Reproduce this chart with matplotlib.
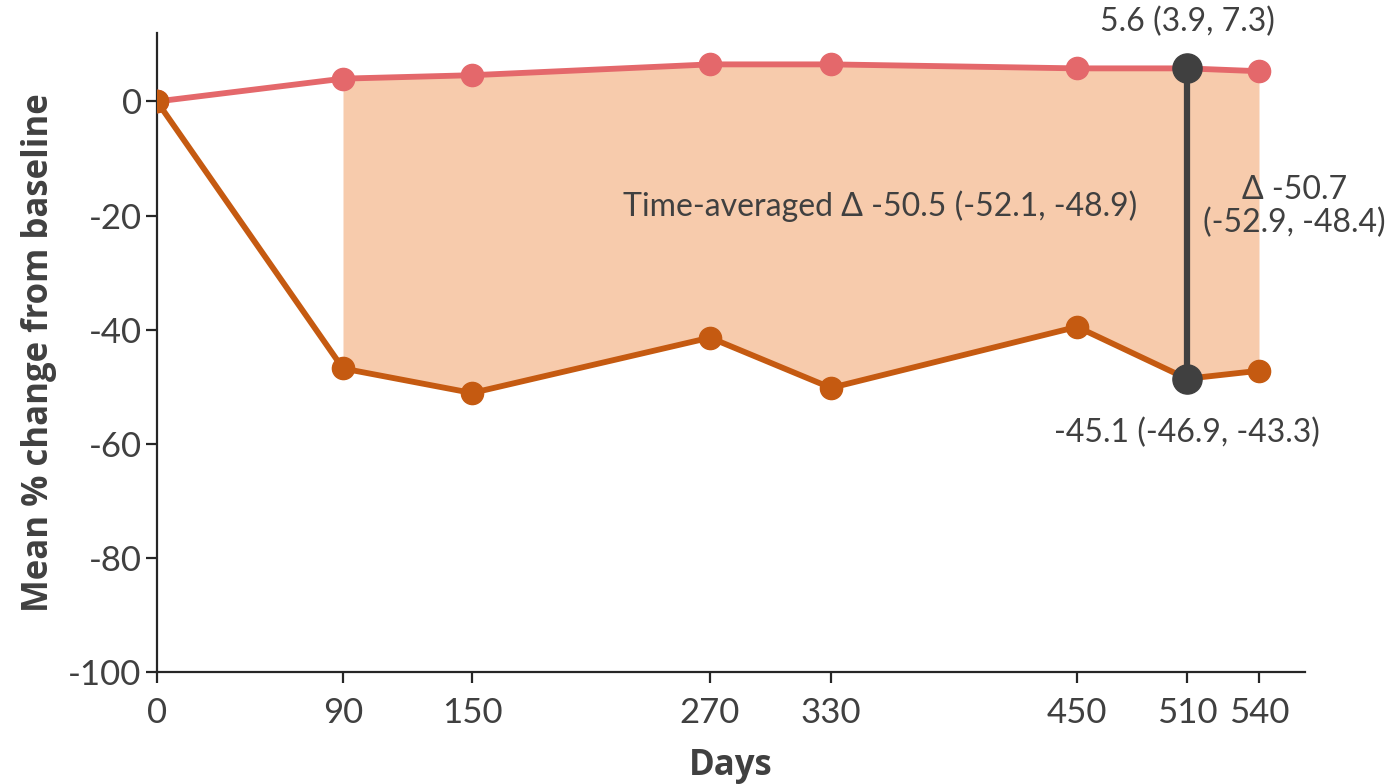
import matplotlib
matplotlib.use("Agg")
import matplotlib.pyplot as plt
import numpy as np

days = [0, 90, 150, 270, 330, 450, 510, 540]
upper = [0.0, 4.0, 4.6, 6.5, 6.5, 5.8, 5.8, 5.3]
lower = [0.0, -46.8, -51.1, -41.4, -50.2, -39.5, -48.6, -47.2]
fill_days = days[1:]
fill_upper = upper[1:]
fill_lower = lower[1:]
yticks = [0, -20, -40, -60, -80, -100]
highlight_day = 510
label_top = "5.6 (3.9, 7.3)"
label_bottom = "-45.1 (-46.9, -43.3)"
label_delta = "Δ -50.7\n(-52.9, -48.4)"
label_avg = "Time-averaged Δ -50.5 (-52.1, -48.9)"

# axis layout of the original (tick spacing on the x axis is not uniform)
knot_days = np.array([0, 90, 150, 270, 330, 450, 510, 540, 562], dtype=float)
knot_pos = np.array([157, 343, 472, 710, 831, 1077, 1187, 1259, 1305], dtype=float)

def fwd(d):
    d = np.asarray(d, dtype=float)
    return np.interp(d, knot_days, knot_pos) + \
        np.where(d > knot_days[-1], (d - knot_days[-1]) * 2.05, 0) + \
        np.where(d < 0, d * 2.05, 0)

def inv(p):
    p = np.asarray(p, dtype=float)
    return np.interp(p, knot_pos, knot_days) + \
        np.where(p > knot_pos[-1], (p - knot_pos[-1]) / 2.05, 0) + \
        np.where(p < knot_pos[0], (p - knot_pos[0]) / 2.05, 0)

C_UP = "#E4686B"
C_LO = "#C55A11"
C_FILL = "#F7CBAC"
C_DARK = "#404040"

fig = plt.figure(figsize=(13.94, 7.84), dpi=100)
ax = fig.add_axes([157/1394, 1-672/784, (1305-157)/1394, (672-33)/784])
ax.set_xscale("function", functions=(fwd, inv))

ax.fill_between(fill_days, fill_lower, fill_upper, color=C_FILL, lw=0, zorder=1)
ax.plot(days, upper, color=C_UP, lw=4.2, marker="o", ms=16, zorder=3)
ax.plot(days, lower, color=C_LO, lw=4.2, marker="o", ms=16, zorder=3)

i = days.index(highlight_day)
ax.plot([highlight_day, highlight_day], [upper[i], lower[i]], color=C_DARK, lw=4.5, zorder=4)
ax.plot([highlight_day, highlight_day], [upper[i], lower[i]], ls="none", marker="o",
        ms=21, color=C_DARK, zorder=5)

tf = dict(family="Lato", fontsize=23, color=C_DARK)
ax.text(highlight_day, 14.0, label_top, ha="center", va="center", clip_on=False, **tf)
ax.text(highlight_day, -58.1, label_bottom, ha="center", va="center", clip_on=False, **tf)
ax.text(557, -18.4, label_delta, ha="center", va="center", clip_on=False, linespacing=1.1, **tf)
ax.text(354, -18.4, label_avg, ha="center", va="center", **tf)

ax.set_xlim(0, 562)
ax.set_ylim(-100, 12)
ax.set_xticks(days)
ax.set_yticks(yticks)
ax.set_xticklabels([str(d) for d in days], family="Lato", fontsize=25, color=C_DARK)
ax.set_yticklabels([str(v) for v in yticks], family="Lato", fontsize=25, color=C_DARK)
ax.minorticks_off()
for s in ["top", "right"]:
    ax.spines[s].set_visible(False)
for s in ["left", "bottom"]:
    ax.spines[s].set_color("#262626")
    ax.spines[s].set_linewidth(1.6)
ax.tick_params(axis="both", length=8, width=1.6, color="#262626", pad=3)
ax.tick_params(axis="x", pad=10)
ax.set_xlabel("Days", family="Open Sans", fontweight="bold", fontsize=25, color=C_DARK, labelpad=14)
ax.set_ylabel("Mean % change from baseline", family="Open Sans", fontweight="bold",
              fontsize=25, color=C_DARK, labelpad=8)

fig.savefig("out.png", dpi=100)
